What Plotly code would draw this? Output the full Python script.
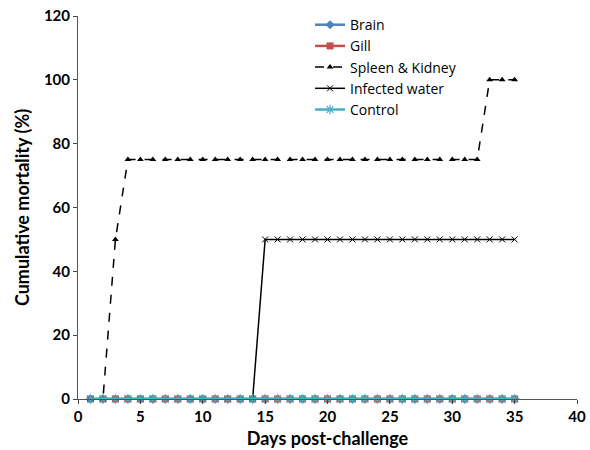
import plotly.graph_objects as go

days = list(range(1, 36))
brain = [0] * 35
gill = [0] * 35
spleen_kidney = [0, 0, 50] + [75] * 29 + [100, 100, 100]
infected_water = [0] * 14 + [50] * 21
control = [0] * 35

x_ticks = [0, 5, 10, 15, 20, 25, 30, 35, 40]
y_ticks = [0, 20, 40, 60, 80, 100, 120]

FONT = "Lato, 'Open Sans', 'DejaVu Sans', sans-serif"
LEG_FONT = "'Open Sans', Lato, 'DejaVu Sans', sans-serif"

fig = go.Figure()
fig.add_trace(go.Scatter(x=days, y=brain, name="Brain", mode="lines+markers",
                         line=dict(color="#4F81BD", width=2.5),
                         marker=dict(symbol="diamond", size=7, color="#4F81BD")))
fig.add_trace(go.Scatter(x=days, y=gill, name="Gill", mode="lines+markers",
                         line=dict(color="#C0504D", width=2.5),
                         marker=dict(symbol="square", size=7, color="#C0504D")))
fig.add_trace(go.Scatter(x=days, y=spleen_kidney, name="Spleen & Kidney", mode="lines+markers",
                         line=dict(color="black", width=1.5, dash="dash"),
                         marker=dict(symbol="triangle-up", size=6, color="black")))
fig.add_trace(go.Scatter(x=days, y=infected_water, name="Infected water", mode="lines+markers",
                         line=dict(color="black", width=1.5),
                         marker=dict(symbol="x-thin", size=6, color="black",
                                     line=dict(color="black", width=1))))
fig.add_trace(go.Scatter(x=days, y=control, name="Control", mode="lines+markers",
                         line=dict(color="#4BACC6", width=2.5),
                         marker=dict(symbol="asterisk", size=8, color="#4BACC6",
                                     line=dict(color="#4BACC6", width=1.2))))

fig.update_layout(
    width=590, height=450,
    margin=dict(l=78, r=13, t=16, b=51, autoexpand=False),
    plot_bgcolor="white", paper_bgcolor="white",
    font=dict(family=FONT, color="black", size=14),
    legend=dict(x=0.465, y=1.018, xanchor="left", yanchor="top",
                bgcolor="rgba(0,0,0,0)", font=dict(size=14, family=LEG_FONT),
                tracegroupgap=0, itemwidth=30),
    xaxis=dict(range=[0, 40], tickvals=x_ticks, ticks="outside", ticklen=4,
               automargin=False, ticklabeloverflow="allow",
               showline=True, linecolor="#555", linewidth=1, showgrid=False, zeroline=False,
               tickfont=dict(size=15, family=FONT, weight="bold"),
               title=dict(text="Days post-challenge", standoff=8,
                          font=dict(size=18, family=FONT, weight="bold"))),
    yaxis=dict(range=[0, 120], tickvals=y_ticks, ticks="outside", ticklen=4,
               automargin=False,
               showline=True, linecolor="#555", linewidth=1, showgrid=False, zeroline=False,
               tickfont=dict(size=15, family=FONT, weight="bold"),
               title=dict(text="Cumulative mortality (%)", standoff=9,
                          font=dict(size=18, family=FONT, weight="bold"))),
)
fig.update_traces(cliponaxis=False)
fig.write_html("out.html", config={"displayModeBar": False},
               post_script="document.body.style.margin='0';document.body.style.padding='0';")
